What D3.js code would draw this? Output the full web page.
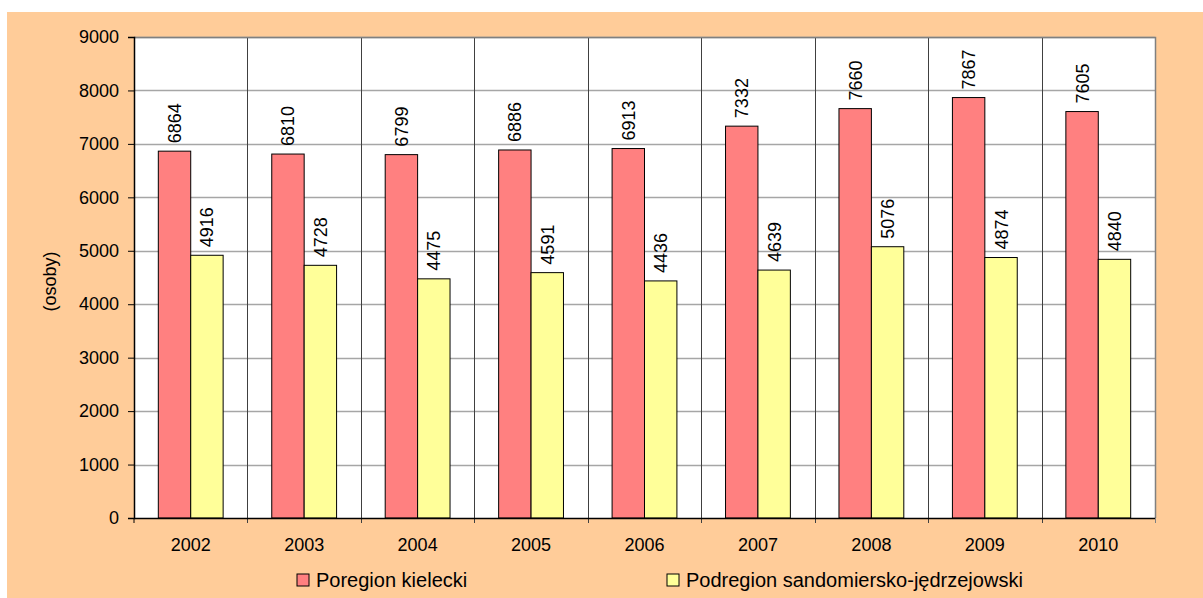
<!DOCTYPE html>
<html>
<head>
<meta charset="utf-8">
<script src="https://cdn.jsdelivr.net/npm/d3@7"></script>
<style>
  body { margin: 0; background: #fff; }
  svg { display: block; font-family: Arial, "Liberation Sans", sans-serif; }
</style>
</head>
<body>
<script>
'use strict';

var years = ["2002", "2003", "2004", "2005", "2006", "2007", "2008", "2009", "2010"];
var seriesNames = ["Poregion kielecki", "Podregion sandomiersko-jędrzejowski"];
var kielecki = [6864, 6810, 6799, 6886, 6913, 7332, 7660, 7867, 7605];
var sandomierski = [4916, 4728, 4475, 4591, 4436, 4639, 5076, 4874, 4840];
var yTicks = [0, 1000, 2000, 3000, 4000, 5000, 6000, 7000, 8000, 9000];
var colors = ["#FF8080", "#FFFF99"];

var W = 1203, H = 598;
var plot = {left: 134, top: 37, right: 1155, bottom: 518};
var FONT = "Arial, 'Liberation Sans', sans-serif";

var svg = d3.select("body").append("svg")
    .attr("width", W)
    .attr("height", H);

// orange chart area
svg.append("rect")
    .attr("x", 7).attr("y", 12)
    .attr("width", W - 7).attr("height", H - 12)
    .attr("fill", "#FFCC99");

svg.append("rect")
    .attr("x", plot.left).attr("y", plot.top)
    .attr("width", plot.right - plot.left).attr("height", plot.bottom - plot.top)
    .attr("fill", "#fff");

var x0 = d3.scaleBand()
    .domain(years)
    .range([plot.left, plot.right])
    .paddingInner(0)
    .paddingOuter(0);

// gap width 150% -> bars take 2/(2+1.5) of a group
var barW = x0.bandwidth() / 3.5;
var x1 = d3.scaleBand()
    .domain([0, 1])
    .range([barW * 0.75, barW * 2.75]);

var y = d3.scaleLinear()
    .domain([0, 9000])
    .range([plot.bottom, plot.top]);

// horizontal gridlines
svg.append("g")
    .selectAll("line")
    .data(yTicks.slice(1))
    .enter().append("line")
    .attr("x1", plot.left).attr("x2", plot.right)
    .attr("y1", function(d) { return Math.round(y(d)) + 0.5; })
    .attr("y2", function(d) { return Math.round(y(d)) + 0.5; })
    .attr("stroke", "#a6a6a6")
    .attr("stroke-width", 1.5);

// vertical separators between categories
svg.append("g")
    .selectAll("line")
    .data(years.slice(1))
    .enter().append("line")
    .attr("x1", function(d) { return Math.round(x0(d)) + 0.5; })
    .attr("x2", function(d) { return Math.round(x0(d)) + 0.5; })
    .attr("y1", plot.top).attr("y2", plot.bottom + 5)
    .attr("stroke", "#404040")
    .attr("stroke-width", 1);

// right and top plot border
svg.append("path")
    .attr("d", "M" + plot.left + "," + (plot.top + 0.5) + "H" + (plot.right + 0.5) + "V" + plot.bottom)
    .attr("fill", "none")
    .attr("stroke", "#808080")
    .attr("stroke-width", 1.5);

var data = years.map(function(yr, i) {
    return {year: yr, values: [kielecki[i], sandomierski[i]]};
});

var groups = svg.append("g")
    .selectAll("g")
    .data(data)
    .enter().append("g")
    .attr("transform", function(d) { return "translate(" + x0(d.year) + ",0)"; });

groups.selectAll("rect")
    .data(function(d) { return d.values; })
    .enter().append("rect")
    .attr("x", function(d, i) { return x1(i); })
    .attr("y", function(d) { return y(d); })
    .attr("width", x1.bandwidth())
    .attr("height", function(d) { return y(0) - y(d); })
    .attr("fill", function(d, i) { return colors[i]; })
    .attr("stroke", "#000")
    .attr("stroke-width", 1);

groups.selectAll("text")
    .data(function(d) { return d.values; })
    .enter().append("text")
    .attr("transform", function(d, i) {
        return "translate(" + (x1(i) + x1.bandwidth() / 2) + "," + (y(d) - 8) + ") rotate(-90)";
    })
    .attr("dy", "0.36em")
    .attr("font-size", 18)
    .attr("fill", "#000")
    .text(function(d) { return d; });

// y axis
var yAxis = svg.append("g")
    .attr("transform", "translate(" + plot.left + ",0)")
    .call(d3.axisLeft(y).tickValues(yTicks).tickSize(6).tickPadding(9).tickFormat(d3.format("d")));
yAxis.select(".domain").attr("stroke", "#000").attr("stroke-width", 1.5);
yAxis.selectAll(".tick line").attr("stroke", "#000");
yAxis.selectAll("text").attr("font-size", 18).attr("fill", "#000").attr("font-family", FONT);

// x axis
var xAxis = svg.append("g")
    .attr("transform", "translate(0," + plot.bottom + ")")
    .call(d3.axisBottom(x0).tickSize(0).tickPadding(20));
xAxis.select(".domain").attr("stroke", "#000").attr("stroke-width", 1.5);
xAxis.selectAll("text").attr("font-size", 18).attr("fill", "#000").attr("font-family", FONT);

svg.append("line")
    .attr("x1", plot.left).attr("x2", plot.left)
    .attr("y1", plot.bottom).attr("y2", plot.bottom + 5)
    .attr("stroke", "#000");
svg.append("line")
    .attr("x1", plot.right + 0.5).attr("x2", plot.right + 0.5)
    .attr("y1", plot.bottom).attr("y2", plot.bottom + 5)
    .attr("stroke", "#808080");

// y axis title
svg.append("text")
    .attr("transform", "translate(50," + ((plot.top + plot.bottom) / 2 + 4) + ") rotate(-90)")
    .attr("text-anchor", "middle")
    .attr("dy", "0.36em")
    .attr("font-size", 18)
    .text("(osoby)");

// legend
var legendX = [297, 667];
var legend = svg.append("g")
    .selectAll("g")
    .data(seriesNames)
    .enter().append("g")
    .attr("transform", function(d, i) { return "translate(" + legendX[i] + ",574)"; });

legend.append("rect")
    .attr("width", 12).attr("height", 12)
    .attr("fill", function(d, i) { return colors[i]; })
    .attr("stroke", "#000");

legend.append("text")
    .attr("x", 19).attr("y", 13)
    .attr("font-size", 20)
    .text(function(d) { return d; });
</script>
</body>
</html>
